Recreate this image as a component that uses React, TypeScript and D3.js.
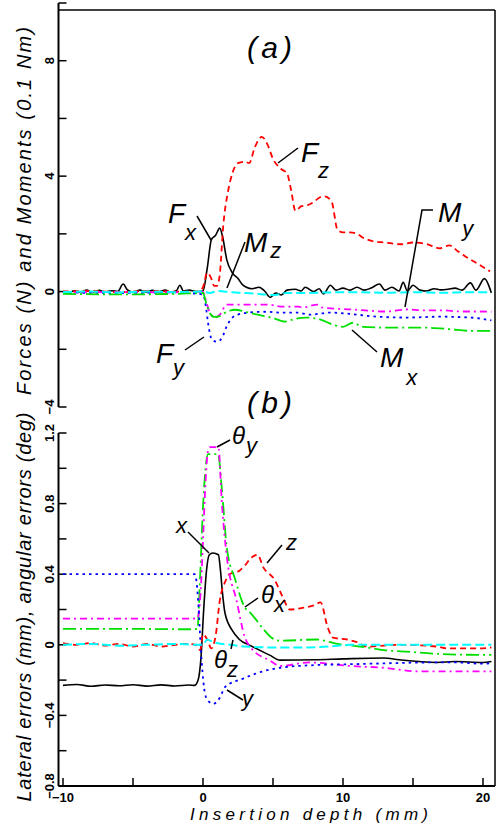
import React from 'react';
import * as d3 from 'd3';

type P = [number, number];

// ---------- axis ticks ----------
const X_TICKS = [-10, -5, 0, 5, 10, 15, 20];
const X_LABELS = [-10, 0, 10, 20];
const TOP_TICKS = [-4, -2, 0, 2, 4, 6, 8, 10];
const TOP_LABELS = [-4, 0, 4, 8];
const BOT_TICKS = [-0.8, -0.6, -0.4, -0.2, 0, 0.2, 0.4, 0.6, 0.8, 1.0, 1.2];
const BOT_LABELS = [-0.8, -0.4, 0, 0.4, 0.8, 1.2];

// ---------- panel (a): forces (N) and moments (0.1 Nm) vs insertion depth (mm) ----------
const FX: P[] = [
  [-10, 0.0], [-9.6, -0.04], [-9.2, 0.03], [-8.8, -0.02], [-8.3, 0.05], [-7.9, -0.02], [-7.4, 0.04], [-7, -0.01], [-6.5, 0.03], [-6.1, 0.0],
  [-5.7, 0.26], [-5.4, 0.06], [-5, -0.02], [-4.5, 0.05], [-4.1, -0.02], [-3.6, 0.04], [-3.2, -0.01], [-2.7, 0.05], [-2.3, -0.02], [-1.9, 0.03],
  [-1.65, 0.22], [-1.4, 0.02], [-1, 0.05], [-0.5, 0.0], [0, 0.02], [0.3, 0.8], [0.6, 1.8], [0.9, 1.95], [1.2, 2.2], [1.4, 1.9],
  [1.7, 1.1], [2.1, 0.65], [2.5, 0.45], [2.8, 0.25], [3.1, 0.15], [3.5, 0.1], [4, 0.15], [4.4, 0.02], [4.8, -0.2], [5.2, -0.05],
  [5.6, -0.12], [6, 0.05], [6.6, 0.08], [7, 0.02], [7.3, 0.15], [7.9, 0], [8.3, 0.1], [8.6, -0.08], [9.1, 0.22], [9.5, 0.05],
  [10, 0.12], [10.5, 0.05], [11, 0.15], [11.5, 0.05], [12, 0.12], [12.6, 0.26], [13, 0.05], [13.5, 0.15], [14, 0.02], [14.3, 0.32],
  [14.6, 0.02], [15, 0.22], [15.5, 0.05], [16, 0.02], [16.5, 0.1], [17, 0.06], [17.5, 0.08], [18, 0.12], [18.5, 0.05], [19.1, 0.3],
  [19.5, 0.05], [20.1, 0.45], [20.6, -0.05],
];
const FZ: P[] = [
  [-10, 0], [-8, 0.02], [-6, -0.02], [-4, 0.02], [-2, 0], [-0.3, 0], [0, 0.15], [0.3, 0.65], [0.55, 0.5], [0.8, 0.2],
  [1.0, 0.2], [1.2, 0.6], [1.45, 2.3], [1.8, 3.5], [2.1, 4.1], [2.5, 4.45], [3.0, 4.5], [3.3, 4.45], [3.7, 5.0], [4.2, 5.36],
  [4.6, 5.1], [5.0, 4.6], [5.6, 4.24], [6.0, 4.1], [6.3, 3.5], [6.6, 2.8], [7.0, 2.95], [7.5, 3.0], [7.9, 3.1], [8.3, 3.25],
  [8.7, 3.3], [9.2, 3.1], [9.6, 2.15], [10.0, 2.05], [10.5, 2.05], [11, 2.0], [11.5, 1.85], [12.1, 1.75], [13, 1.7], [14.1, 1.64],
  [15, 1.7], [16, 1.64], [16.9, 1.5], [17.6, 1.6], [18.2, 1.4], [18.8, 1.2], [19.5, 1.0], [20.5, 0.7],
];
const MZ: P[] = [
  [-10, -0.02], [-8, 0], [-6, -0.03], [-4, 0], [-2, -0.02], [0, 0], [0.5, -0.05], [1, 0.02], [2, -0.02], [3, -0.05],
  [4, -0.08], [5, -0.12], [6, -0.05], [7, -0.05], [9, -0.03], [11, -0.02], [13, -0.04], [15, -0.02], [17, -0.04], [19, -0.02], [20.6, -0.03],
];
const MY: P[] = [
  [-10, -0.03], [-6, -0.02], [-2, -0.03], [0, -0.02], [0.2, -0.3], [0.5, -0.75], [0.86, -0.9], [1.2, -0.8], [1.7, -0.45], [3.1, -0.45],
  [4.6, -0.45], [5.7, -0.52], [6.8, -0.52], [7.1, -0.55], [8.2, -0.45], [8.5, -0.55], [10.6, -0.62], [13.1, -0.69], [14.6, -0.62],
  [15.7, -0.65], [17.1, -0.65], [18.4, -0.69], [19.8, -0.69], [20.6, -0.7],
];
const FY: P[] = [
  [-10, -0.03], [-6, -0.05], [-2, -0.03], [0, -0.1], [0.2, -0.5], [0.36, -1.08], [0.64, -1.67], [1.0, -1.74], [1.36, -1.6], [1.7, -1.2],
  [2.1, -0.9], [2.5, -0.8], [3.2, -0.73], [4.4, -0.7], [5.6, -0.73], [6.8, -0.73], [7.6, -0.8], [9.1, -0.73], [11, -0.8], [12.4, -0.87],
  [14.6, -0.9], [16.9, -0.87], [19.1, -0.9], [20.6, -1.0],
];
const MX: P[] = [
  [-10, -0.08], [-6, -0.1], [-2, -0.08], [0, -0.05], [0.2, -0.35], [0.5, -0.75], [0.8, -0.88], [1.2, -0.85], [1.7, -0.7], [2.3, -0.63],
  [3, -0.7], [3.9, -0.8], [4.9, -0.9], [5.9, -1.04], [6.4, -0.97], [7.3, -0.9], [8.4, -0.97], [9.3, -1.15], [10, -1.22], [10.7, -1.08],
  [11.4, -1.22], [13.4, -1.25], [15.7, -1.25], [17.6, -1.3], [19.1, -1.36], [20.6, -1.36],
];

// ---------- panel (b): lateral errors (mm), angular errors (deg) ----------
const EX: P[] = [
  [-10, -0.23], [-9, -0.225], [-8, -0.235], [-7, -0.228], [-6, -0.232], [-5, -0.226], [-4, -0.234], [-3, -0.227], [-2, -0.233], [-1, -0.228],
  [-0.6, -0.23], [-0.35, -0.2], [-0.15, -0.08], [0.05, 0.2], [0.25, 0.42], [0.45, 0.51], [0.7, 0.52], [1.1, 0.51], [1.25, 0.42], [1.36, 0.32],
  [1.57, 0.18], [2.1, 0.08], [2.6, 0.03], [3.4, -0.005], [4.8, -0.06], [5.5, -0.087], [8, -0.085], [10, -0.08], [12.9, -0.075], [14, -0.085],
  [16.7, -0.1], [18, -0.095], [20, -0.1], [20.6, -0.095],
];
const EY: P[] = [
  [-10, 0.4], [-8, 0.4], [-6, 0.4], [-4, 0.4], [-2, 0.4], [-0.6, 0.4], [-0.45, 0.35], [-0.35, 0.25], [-0.1, -0.09], [0.15, -0.28],
  [0.4, -0.32], [0.7, -0.335], [1.2, -0.3], [1.57, -0.24], [2.9, -0.19], [4.3, -0.15], [5.5, -0.13], [8, -0.115], [10.5, -0.11],
  [13, -0.105], [16.4, -0.1], [18, -0.1], [20, -0.107], [20.6, -0.105],
];
const EZ: P[] = [
  [-10, 0.01], [-9, 0], [-8, 0.01], [-7, -0.005], [-6, 0.005], [-5, -0.01], [-4, 0.005], [-3, -0.01], [-2, 0], [-1, 0.005],
  [-0.5, 0], [-0.2, -0.03], [0, 0.06], [0.3, 0.03], [0.6, -0.02], [0.9, 0.05], [1.2, 0.25], [1.6, 0.36], [1.9, 0.4], [2.6, 0.42],
  [3.0, 0.45], [3.4, 0.49], [3.9, 0.51], [4.3, 0.44], [5.1, 0.37], [5.7, 0.27], [6.2, 0.2], [7.2, 0.21], [7.8, 0.22], [8.4, 0.24],
  [8.9, 0.1], [9.3, 0.04], [10.3, 0.03], [11.0, 0.015], [11.7, -0.01], [14.1, 0], [16.7, -0.01], [17.4, -0.02], [19.8, -0.02], [20.6, -0.015],
];
const THX: P[] = [
  [-10, 0.09], [-5, 0.09], [-1, 0.088], [-0.4, 0.09], [-0.2, 0.4], [0, 0.78], [0.36, 1.08], [1.07, 1.08], [1.35, 0.88], [1.7, 0.55],
  [2.3, 0.37], [3, 0.21], [3.4, 0.18], [4.3, 0.09], [4.9, 0.04], [5.5, 0.023], [8.1, 0.03], [9.6, 0.005], [11.7, -0.015], [12.9, -0.03],
  [14.8, -0.04], [16.4, -0.05], [19.8, -0.057], [20.6, -0.057],
];
const THY: P[] = [
  [-10, 0.148], [-5, 0.148], [-1, 0.148], [-0.4, 0.15], [-0.1, 0.4], [0, 0.59], [0.2, 0.95], [0.36, 1.1], [0.5, 1.12], [1.1, 1.12],
  [1.35, 0.8], [1.7, 0.5], [2.4, 0.25], [3.0, 0.04], [3.4, -0.015], [4.8, -0.09], [5.5, -0.12], [7.6, -0.1], [10.5, -0.12], [12.9, -0.13],
  [15.3, -0.15], [19.8, -0.15], [20.6, -0.15],
];
const THZ: P[] = [
  [-10, 0], [-8, 0.005], [-6, -0.005], [-4, 0], [-2, 0.005], [-0.5, 0], [0, 0], [0.3, 0.03], [0.6, 0.02], [1, 0.01],
  [2, 0], [3, -0.01], [5, -0.015], [7, -0.015], [9, -0.01], [10.5, 0], [13, 0], [16, 0], [18, 0], [20.6, 0],
];

const FONT = "'Liberation Sans', Arial, sans-serif";

function Lbl({ x, y, main, sub, dx, dy, size = 28, subSize = 22 }: any) {
  return (
    <text x={x} y={y} fontFamily={FONT} fontStyle="italic" fontSize={size} fill="#000">
      {main}
      <tspan dx={dx} dy={dy} fontSize={subSize}>{sub}</tspan>
    </text>
  );
}

export default function App() {
  const x = d3.scaleLinear().domain([-10, 20]).range([63, 483]);
  const yTop = d3.scaleLinear().domain([-4, 10]).range([407, 3]);
  const yBot = d3.scaleLinear().domain([-0.8, 1.2]).range([786, 433]);
  const lt = d3.line<P>().x(d => x(d[0])).y(d => yTop(d[1])).curve(d3.curveMonotoneX);
  const lb = d3.line<P>().x(d => x(d[0])).y(d => yBot(d[1])).curve(d3.curveMonotoneX);
  const fmt = d3.format('~g');

  const L = 58.5, R = 495, T = 10, B = 786;

  const topSeries = [
    { d: FX, c: '#000', w: 1.6, da: undefined },
    { d: FZ, c: '#ff0000', w: 1.8, da: '6,4' },
    { d: MY, c: '#ff00ff', w: 1.8, da: '7,4,2,4' },
    { d: FY, c: '#0000ff', w: 1.8, da: '2.5,4' },
    { d: MX, c: '#00e000', w: 1.8, da: '13,4,2,4' },
    { d: MZ, c: '#00ffff', w: 2, da: '9,4' },
  ];
  const botSeries = [
    { d: EX, c: '#000', w: 1.6, da: undefined },
    { d: EZ, c: '#ff0000', w: 1.8, da: '6,4' },
    { d: THX, c: '#00e000', w: 1.8, da: '13,4,2,4' },
    { d: THY, c: '#ff00ff', w: 1.8, da: '7,4,2,4' },
    { d: EY, c: '#0000ff', w: 1.8, da: '2.5,4' },
    { d: THZ, c: '#00ffff', w: 2, da: '9,4' },
  ];

  const tickFont = { fontFamily: FONT, fontWeight: 700, fontSize: 13 } as any;

  return (
    <svg width={498} height={824} style={{ position: 'absolute', left: 0, top: 0, background: '#fff' }}>
      <rect x={0} y={0} width={498} height={824} fill="#fff" />
      {/* frame */}
      <line x1={L} x2={R} y1={T} y2={T} stroke="#000" strokeWidth={1.5} />
      <line x1={R} x2={R} y1={T} y2={B} stroke="#000" strokeWidth={1.5} />
      <line x1={L} x2={R} y1={B} y2={B} stroke="#000" strokeWidth={2} />
      <line x1={L} x2={L} y1={yTop(10)} y2={yTop(-4)} stroke="#000" strokeWidth={2} />
      <line x1={L} x2={L} y1={yBot(1.2)} y2={B} stroke="#000" strokeWidth={2} />

      {/* top y ticks */}
      {TOP_TICKS.map(t => (
        <line key={'tt' + t} x1={L} x2={L + 8} y1={yTop(t)} y2={yTop(t)} stroke="#000" strokeWidth={1.5} />
      ))}
      {TOP_LABELS.map(t => (
        <text key={'tl' + t} transform={`translate(54,${yTop(t)}) rotate(-90)`} textAnchor="middle" {...tickFont}>{fmt(t)}</text>
      ))}
      {/* bottom y ticks */}
      {BOT_TICKS.map(t => (
        <line key={'bt' + t} x1={L} x2={L + 8} y1={yBot(t)} y2={yBot(t)} stroke="#000" strokeWidth={1.5} />
      ))}
      {BOT_LABELS.map(t => (
        <text key={'bl' + t} transform={`translate(54,${yBot(t)}) rotate(-90)`} textAnchor="middle" {...tickFont}>{fmt(t)}</text>
      ))}
      {/* x ticks */}
      {X_TICKS.map(t => (
        <line key={'xt' + t} x1={x(t)} x2={x(t)} y1={B} y2={B - 8} stroke="#000" strokeWidth={1.5} />
      ))}
      {X_LABELS.map(t => (
        <text key={'xl' + t} x={x(t)} y={802} textAnchor="middle" {...tickFont}>{fmt(t)}</text>
      ))}

      {/* axis titles */}
      <text transform="translate(31,211) rotate(-90)" textAnchor="middle" fontFamily={FONT} fontStyle="italic" fontSize={20}
        textLength={368} lengthAdjust="spacing">Forces (N) and Moments (0.1 Nm)</text>
      <text transform="translate(31,607) rotate(-90)" textAnchor="middle" fontFamily={FONT} fontStyle="italic" fontSize={20}
        textLength={389} lengthAdjust="spacing">Lateral errors (mm), angular errors (deg)</text>
      <text x={309} y={820} textAnchor="middle" fontFamily={FONT} fontStyle="italic" fontSize={17}
        textLength={238} lengthAdjust="spacing">Insertion depth (mm)</text>

      {/* series */}
      <g fill="none">
        {topSeries.map((s, i) => (
          <path key={'ts' + i} d={lt(s.d) || ''} stroke={s.c} strokeWidth={s.w} strokeDasharray={s.da} />
        ))}
        {botSeries.map((s, i) => (
          <path key={'bs' + i} d={lb(s.d) || ''} stroke={s.c} strokeWidth={s.w} strokeDasharray={s.da} />
        ))}
      </g>

      {/* panel labels */}
      <text x={247} y={58} fontFamily={FONT} fontStyle="italic" fontSize={30} textLength={45} lengthAdjust="spacing">(a)</text>
      <text x={247} y={413} fontFamily={FONT} fontStyle="italic" fontSize={30} textLength={45} lengthAdjust="spacing">(b)</text>

      {/* annotations panel (a) */}
      <g stroke="#000" strokeWidth={1.5} fill="none">
        <line x1={197} y1={216} x2={211} y2={240} />
        <line x1={245} y1={242} x2={227} y2={288} />
        <line x1={278} y1={163} x2={298} y2={148} />
        <polyline points="433,210 422,210 405,307" />
        <line x1={352} y1={330} x2={377} y2={352} />
        <line x1={185} y1={350} x2={204} y2={337} />
        {/* panel (b) */}
        <line x1={217} y1={447} x2={230} y2={440} />
        <line x1={188} y1={532} x2={209} y2={553} />
        <line x1={267} y1={563} x2={282} y2={545} />
        <line x1={245} y1={607} x2={258} y2={598} />
        <line x1={233} y1={640} x2={231} y2={649} />
        <line x1={227} y1={690} x2={243} y2={700} />
      </g>
      <Lbl x={168} y={223} main="F" sub="x" dx={0} dy={17} />
      <Lbl x={244} y={252} main="M" sub="z" dx={3} dy={6} />
      <Lbl x={301} y={162} main="F" sub="z" dx={0} dy={16} />
      <Lbl x={438} y={222} main="M" sub="y" dx={1} dy={14} />
      <Lbl x={380} y={367} main="M" sub="x" dx={3} dy={18} />
      <Lbl x={156} y={363} main="F" sub="y" dx={0} dy={12} />

      <Lbl x={232} y={444} main="θ" sub="y" dx={1} dy={9} size={24} subSize={22} />
      <text x={176} y={533} fontFamily={FONT} fontStyle="italic" fontSize={22}>x</text>
      <text x={286} y={550} fontFamily={FONT} fontStyle="italic" fontSize={22}>z</text>
      <Lbl x={261} y={603} main="θ" sub="x" dx={0} dy={9} size={24} subSize={22} />
      <Lbl x={214} y={668} main="θ" sub="z" dx={0} dy={9} size={24} subSize={22} />
      <text x={242} y={706} fontFamily={FONT} fontStyle="italic" fontSize={22}>y</text>
    </svg>
  );
}
